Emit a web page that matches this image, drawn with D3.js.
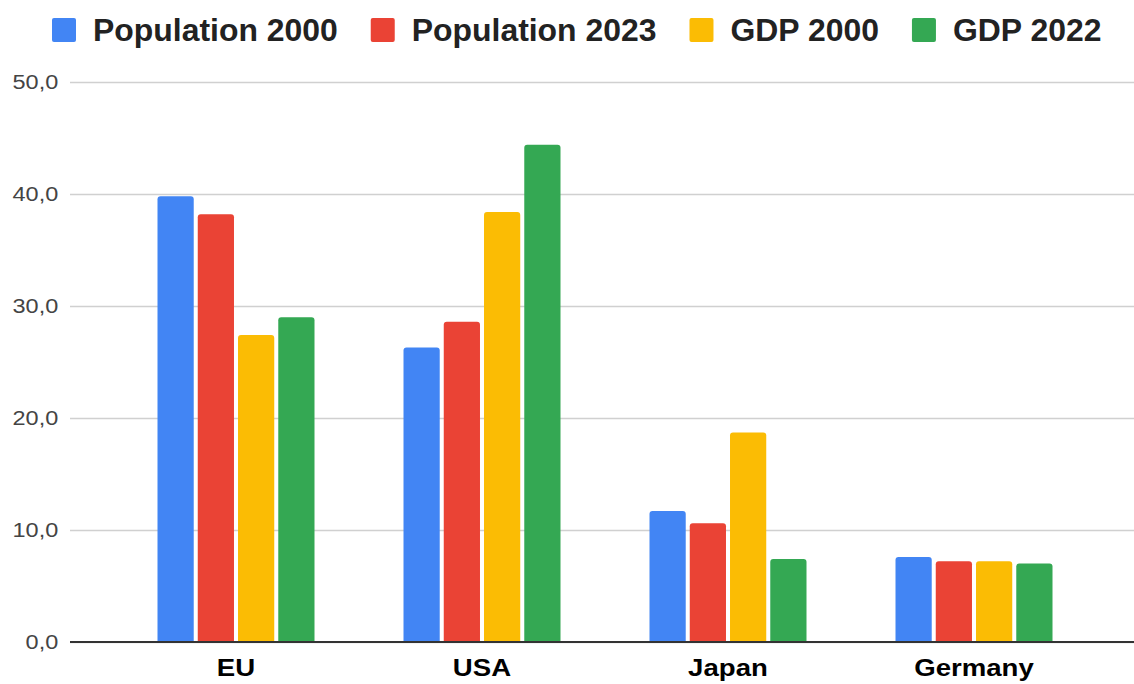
<!DOCTYPE html>
<html>
<head>
<meta charset="utf-8">
<script src="https://cdn.jsdelivr.net/npm/d3@7"></script>
<style>
  html, body { margin: 0; padding: 0; background: #fff; }
  svg { display: block; font-family: "Liberation Sans", Arial, sans-serif; }
</style>
</head>
<body>
<svg id="chart" width="1134" height="684"></svg>
<script>
const categories = ["EU", "USA", "Japan", "Germany"];
const seriesNames = ["Population 2000", "Population 2023", "GDP 2000", "GDP 2022"];
const population2000 = [39.8, 26.3, 11.7, 7.6];
const population2023 = [38.2, 28.6, 10.6, 7.2];
const gdp2000 = [27.4, 38.4, 18.7, 7.2];
const gdp2022 = [29.0, 44.4, 7.4, 7.0];
const seriesColors = ["#4285F4", "#EA4335", "#FBBC04", "#34A853"];
const yTicks = [0, 10, 20, 30, 40, 50];

const seriesValues = [population2000, population2023, gdp2000, gdp2022];
const data = categories.map((c, i) => ({
  category: c,
  values: seriesNames.map((s, j) => ({ series: s, idx: j, value: seriesValues[j][i] }))
}));

const svg = d3.select("#chart");
const plotLeft = 70, plotRight = 1134, plotTop = 82, plotBottom = 642;

const y = d3.scaleLinear().domain([0, 50]).range([plotBottom, plotTop]);
const x0 = d3.scaleBand().domain(categories).range([113, 1097]);
const groupW = 157;
const x1 = d3.scaleBand().domain(seriesNames)
  .range([x0.bandwidth() / 2 - groupW / 2, x0.bandwidth() / 2 + groupW / 2])
  .paddingInner(0.1);
const fmt = v => d3.format(".1f")(v).replace(".", ",");

// gridlines
const yAxis = d3.axisLeft(y).tickValues(yTicks).tickFormat(fmt)
  .tickSize(-(plotRight - plotLeft)).tickPadding(10.5);
const gy = svg.append("g").attr("transform", `translate(${plotLeft},0)`).call(yAxis);
gy.select(".domain").remove();
gy.selectAll(".tick line").attr("stroke", "#d0d0d0").attr("stroke-width", 1.6);
gy.selectAll(".tick text").attr("fill", "#444").attr("font-size", 21)
  .attr("font-family", "Liberation Sans, Arial, sans-serif")
  .attr("transform", "scale(1.12,1)");

// bars
function topRounded(x, yTop, w, h, r) {
  r = Math.min(r, h);
  return `M${x},${yTop + h}V${yTop + r}Q${x},${yTop} ${x + r},${yTop}H${x + w - r}Q${x + w},${yTop} ${x + w},${yTop + r}V${yTop + h}Z`;
}
const groups = svg.append("g").selectAll("g").data(data).join("g")
  .attr("transform", d => `translate(${x0(d.category)},0)`);
groups.selectAll("path").data(d => d.values).join("path")
  .attr("d", d => topRounded(x1(d.series), y(d.value), x1.bandwidth(), y(0) - y(d.value), 3))
  .attr("fill", d => seriesColors[d.idx]);

// baseline
svg.append("line").attr("x1", plotLeft).attr("x2", plotRight)
  .attr("y1", y(0)).attr("y2", y(0)).attr("stroke", "#333").attr("stroke-width", 2);

// x axis labels
const xAxis = d3.axisBottom(x0).tickSize(0).tickPadding(17);
const gx = svg.append("g").attr("transform", `translate(0,${plotBottom})`).call(xAxis);
gx.select(".domain").remove();
gx.selectAll(".tick text").attr("fill", "#000").attr("font-size", 24).attr("font-weight", "bold")
  .attr("font-family", "Liberation Sans, Arial, sans-serif")
  .attr("transform", "scale(1.15,1)");

// legend
const legend = svg.append("g");
let lx = 52;
const lScale = 1.03;
seriesNames.forEach((s, i) => {
  legend.append("rect").attr("x", lx).attr("y", 18).attr("width", 24).attr("height", 24)
    .attr("rx", 2).attr("fill", seriesColors[i]);
  const tx = lx + 41;
  const t = legend.append("text").attr("x", 0).attr("y", 0)
    .attr("transform", `translate(${tx},40.5) scale(${lScale},1)`)
    .attr("font-size", 31).attr("font-weight", "bold").attr("fill", "#222").text(s);
  lx = tx + t.node().getComputedTextLength() * lScale + 33;
});
</script>
</body>
</html>
